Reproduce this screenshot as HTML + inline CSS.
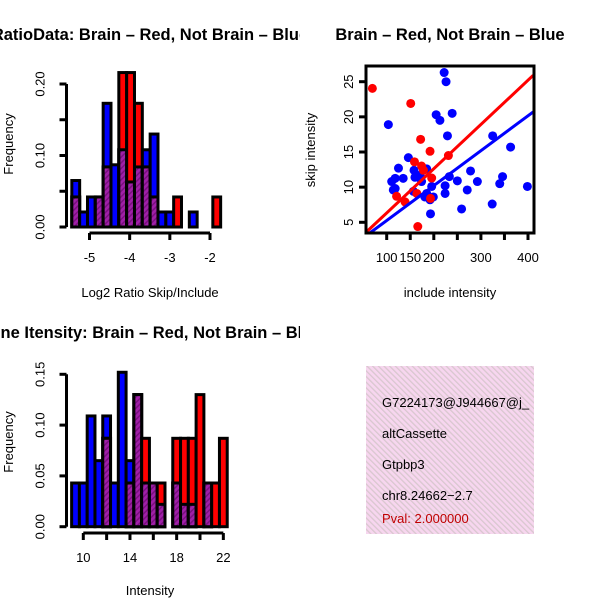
<!DOCTYPE html>
<html><head><meta charset="utf-8"><style>
html,body{margin:0;padding:0;background:#fff}
svg{display:block;font-family:"Liberation Sans",sans-serif}
</style></head><body>
<svg id="c" width="600" height="600" viewBox="0 0 600 600">
<defs>
<pattern id="hatch" patternUnits="userSpaceOnUse" width="4" height="4" patternTransform="rotate(45)">
<rect width="4" height="4" fill="#a020a8"/><rect width="1.5" height="4" fill="#7a1080"/></pattern>
<pattern id="pink" patternUnits="userSpaceOnUse" width="4" height="4" patternTransform="rotate(-45)">
<rect width="4" height="4" fill="#f7d6ef"/><rect width="1.3" height="4" fill="#d9c7cf"/></pattern>
<clipPath id="q1"><rect x="0" y="0" width="300" height="300"/></clipPath>
<clipPath id="q3"><rect x="0" y="300" width="300" height="300"/></clipPath>
<clipPath id="q2"><rect x="366" y="66" width="168" height="167"/></clipPath>
<clipPath id="q4"><rect x="366" y="366" width="168" height="168"/></clipPath>
</defs>
<g id="h1"></g>
<g id="h2"></g>
<g id="sc"></g>
<g>
<rect x="366" y="366" width="168" height="168" fill="url(#pink)"/>
<g clip-path="url(#q4)" font-size="13">
<text x="382" y="407">G7224173@J944667@j_</text>
<text x="382" y="438">altCassette</text>
<text x="382" y="469">Gtpbp3</text>
<text x="382" y="500">chr8.24662−2.7</text>
<text x="382" y="523" fill="#c00000">Pval: 2.000000</text>
</g></g>
</svg>
<script>
// Ratio histogram data (bins of log2 ratio)
const ratioBinStart = -5.44;
const ratioBinWidth = 0.195;
const ratioBlue = [0.065,0.021,0.042,0.042,0.173,0.087,0.108,0.063,0.084,0.108,0.13,0.021,0.021,0,0,0.021,0,0,0];
const ratioRed  = [0.042,0,0,0.042,0.084,0,0.216,0.216,0.173,0.084,0.042,0,0,0.042,0,0,0,0,0.042];
const ratioXTicks = [-5,-4,-3,-2];
const ratioYTicks = [0,0.05,0.10,0.15,0.20];
const ratioYLabels = ["0.00","","0.10","","0.20"];
// Intensity histogram data
const intBinStart = 9;
const intBinWidth = 2/3;
const intBlue = [0.043,0.043,0.109,0.065,0.109,0.043,0.152,0.065,0.13,0.043,0.043,0.022,0,0.043,0.022,0.022,0,0.043,0,0];
const intRed  = [0,0,0,0,0.087,0,0,0.043,0.13,0.087,0.043,0.043,0,0.087,0.087,0.087,0.13,0.043,0.043,0.087];
const intXTicks = [10,12,14,16,18,20,22];
const intXLabels = ["10","","14","","18","","22"];
const intYTicks = [0,0.05,0.10,0.15];
const intYLabels = ["0.00","0.05","0.10","0.15"];
// Scatter data
const redInc  = [69.6,151,172,192,231,159,174,195.5,121,139,193,166,178,164];
const redSkip = [24.05,21.9,16.8,15.1,14.5,13.6,13,11.3,8.7,7.9,8.4,4.4,12.4,9.1];
const blueInc  = [222,226,103.5,205,213,239,229,325,363,146,125,158,185,118,110.6,114,118,160,171,233,250,278,292.5,346,340,398.7,271,224,224,195.5,185,192,181,199,156.6,324,259,193,174,135];
const blueSkip = [26.3,25,18.9,20.3,19.5,20.5,17.3,17.3,15.7,14.2,12.7,12.4,12.6,11.25,10.8,9.6,9.8,11.4,11.7,11.5,10.9,12.3,10.8,11.5,10.5,10.1,9.6,10.2,9.1,10.1,9.1,8.2,8.6,8.6,9.4,7.6,6.9,6.2,10.8,11.25];
const redLine = [57.5,3.66,411,25.9];
const blueLine = [64.6,3.5,411,20.7];
const scXTicks = [100,150,200,250,300,350,400];
const scXLabels = ["100","150","200","","300","","400"];
const scYTicks = [5,10,15,20,25];

const NS="http://www.w3.org/2000/svg";
function mk(parent,tag,attrs){const e=document.createElementNS(NS,tag);for(const k in attrs)e.setAttribute(k,attrs[k]);parent.appendChild(e);return e;}

function hist(g,clip,blue,red,start,w,xs,ys,xTicks,xLabels,yTicks,yLabels,axX,axY,title,xlab,top){
  const inner=mk(g,'g',{'clip-path':'url(#'+clip+')'});
  for(let i=0;i<blue.length;i++){
    const x0=xs(start+i*w),x1=xs(start+(i+1)*w);
    const b=blue[i],r=red[i],m=Math.min(b,r);
    if(b>0){const e=mk(inner,'rect',{x:x0,y:ys(b),width:x1-x0,height:ys(0)-ys(b),fill:'#0000ff',stroke:'#000','stroke-width':3});
      
      }
    if(r>0){const e=mk(inner,'rect',{x:x0,y:ys(r),width:x1-x0,height:ys(0)-ys(r),fill:'#ff0000',stroke:'#000','stroke-width':3});
      
      }
    if(m>0){const e=mk(inner,'rect',{x:x0,y:ys(m),width:x1-x0,height:ys(0)-ys(m),fill:'url(#hatch)',stroke:'#000','stroke-width':3});
      
      }
  }
  const xa=mk(g,'g',{});
  
  
  mk(xa,'line',{x1:xs(xTicks[0]),x2:xs(xTicks[xTicks.length-1]),y1:axY,y2:axY,stroke:'#000','stroke-width':3});
  xTicks.forEach((t,i)=>{mk(xa,'line',{x1:xs(t),x2:xs(t),y1:axY,y2:axY+7,stroke:'#000','stroke-width':3});
    if(xLabels[i]){const tx=mk(xa,'text',{x:xs(t),y:axY+29,'text-anchor':'middle','font-size':13});tx.textContent=xLabels[i];
      
      }});
  const ya=mk(g,'g',{});
  
  
  mk(ya,'line',{x1:axX,x2:axX,y1:ys(yTicks[0]),y2:ys(yTicks[yTicks.length-1]),stroke:'#000','stroke-width':3});
  yTicks.forEach((t,i)=>{mk(ya,'line',{x1:axX-7,x2:axX,y1:ys(t),y2:ys(t),stroke:'#000','stroke-width':3});
    if(yLabels[i]){const tx=mk(ya,'text',{x:0,y:0,'text-anchor':'middle','font-size':13,transform:'translate('+(axX-22)+','+ys(t)+') rotate(-90)'});tx.textContent=yLabels[i];
      
      }});
  const yl=mk(g,'text',{x:0,y:0,'text-anchor':'middle','font-size':13,transform:'translate(13,'+(top+88)+') rotate(-90)'});yl.textContent='Frequency';
  
  
  const xl=mk(g,'text',{x:150,y:top+241,'text-anchor':'middle','font-size':13});xl.textContent=xlab;
  
  
  const tg=mk(g,'g',{'clip-path':'url(#'+clip+')'});
  const tt=mk(tg,'text',{x:150,y:top-16,'text-anchor':'middle','font-size':16.5,'font-weight':'bold'});tt.textContent=title;
  
  
}
// top-left
const xs1=v=>89.5+(v+5)*40.17, ys1=v=>227-v*715;
hist(document.getElementById('h1'),'q1',ratioBlue,ratioRed,ratioBinStart,ratioBinWidth,xs1,ys1,ratioXTicks,["-5","-4","-3","-2"],ratioYTicks,ratioYLabels,66.5,233,'RatioData: Brain – Red, Not Brain – Blue','Log2 Ratio Skip/Include',56);
// bottom-left
const xs2=v=>83.3+(v-10)*11.67, ys2=v=>526.7-v*1016;
hist(document.getElementById('h2'),'q3',intBlue,intRed,intBinStart,intBinWidth,xs2,ys2,intXTicks,intXLabels,intYTicks,intYLabels,66.5,533,'Gene Itensity: Brain – Red, Not Brain – Blue','Intensity',354);

// scatter
const sc=document.getElementById('sc');
const sx=v=>386.7+(v-100)*0.471, sy=v=>81.7-(v-25)*7.03;
const pts=mk(sc,'g',{'clip-path':'url(#q2)'});
blueInc.forEach((v,i)=>{const c=mk(pts,'circle',{cx:sx(v),cy:sy(blueSkip[i]),r:4.5,fill:'#0000ff'});
  
  });
redInc.forEach((v,i)=>{const c=mk(pts,'circle',{cx:sx(v),cy:sy(redSkip[i]),r:4.5,fill:'#ff0000'});
  
  });
const rl=mk(pts,'line',{x1:sx(redLine[0]),y1:sy(redLine[1]),x2:sx(redLine[2]),y2:sy(redLine[3]),stroke:'#ff0000','stroke-width':3});


const bl=mk(pts,'line',{x1:sx(blueLine[0]),y1:sy(blueLine[1]),x2:sx(blueLine[2]),y2:sy(blueLine[3]),stroke:'#0000ff','stroke-width':3});


const box=mk(sc,'rect',{x:366,y:66,width:168,height:167,fill:'none',stroke:'#000','stroke-width':3});


scXTicks.forEach((t,i)=>{mk(sc,'line',{x1:sx(t),x2:sx(t),y1:233,y2:240,stroke:'#000','stroke-width':3});
  if(scXLabels[i]){const tx=mk(sc,'text',{x:sx(t),y:262,'text-anchor':'middle','font-size':13});tx.textContent=scXLabels[i];
    
    }});
scYTicks.forEach(t=>{mk(sc,'line',{x1:359,x2:366,y1:sy(t),y2:sy(t),stroke:'#000','stroke-width':3});
  const tx=mk(sc,'text',{x:0,y:0,'text-anchor':'middle','font-size':13,transform:'translate(353,'+sy(t)+') rotate(-90)'});tx.textContent=String(t);
  
  });
const st=mk(sc,'text',{x:450,y:40,'text-anchor':'middle','font-size':16.5,'font-weight':'bold'});st.textContent='Brain – Red, Not Brain – Blue';


const sxl=mk(sc,'text',{x:450,y:297,'text-anchor':'middle','font-size':13});sxl.textContent='include intensity';


const syl=mk(sc,'text',{x:0,y:0,'text-anchor':'middle','font-size':13,transform:'translate(315,150) rotate(-90)'});syl.textContent='skip intensity';


</script>
</body></html>
